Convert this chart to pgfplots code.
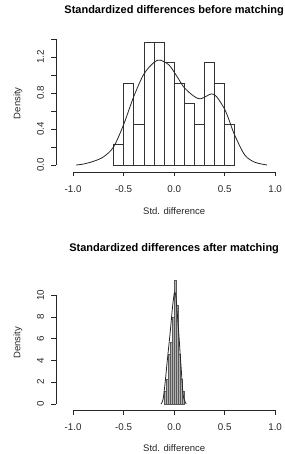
\documentclass[border=0pt]{standalone}
\usepackage{pgfplots}
\pgfplotsset{compat=1.18}
\usepackage{fontspec}
\setmainfont{Liberation Sans}
\pgfplotsset{
  rstyle/.style={
    scale only axis,
    anchor=south west,
    width=236.3bp,
    xmin=-1.17, xmax=1.17,
    axis lines=left,
    axis line style={draw=none},
    xtick={-1,-0.5,0,0.5,1},
    xticklabels={-1.0,-0.5,0.0,0.5,1.0},
    tick align=outside,
    major tick length=4.5bp,
    tick style={black!85, line width=0.6bp},
    /pgf/number format/assume math mode=true,
    ticklabel style={font=\fontsize{9.8bp}{11bp}\selectfont, text=black!85},
    yticklabel style={rotate=90, anchor=south},
    xticklabel shift=6bp,
    yticklabel shift=4bp,
    label style={font=\fontsize{9.5bp}{11bp}\selectfont, text=black!85},
    title style={font=\fontsize{11bp}{13bp}\selectfont\bfseries, anchor=center},
    xlabel={Std. difference},
    ylabel={Density},
    ylabel style={at={(axis description cs:-0.161,0.5)}, anchor=center},
    clip=false,
  }
}
\begin{document}
\begin{tikzpicture}
\path[use as bounding box] (0,0) rectangle (285bp,454bp);
% ---------- top panel ----------
\begin{axis}[rstyle,
  at={(56bp,282bp)}, height=137.5bp,
  ymin=-0.078, ymax=1.45,
  ytick={0,0.2,0.4,0.6,0.8,1.0,1.2,1.4},
  yticklabels={0.0,,0.4,,0.8,,1.2,},
  title={Standardized differences before matching},
  title style={at={(axis description cs:0.5,1.132)}},
  xlabel style={at={(axis description cs:0.5,-0.284)}, anchor=center},
]
\draw[black!85, line width=0.6bp] (axis cs:-1,-0.078) -- (axis cs:1,-0.078);
\draw[black!85, line width=0.6bp] (axis cs:-1.17,0) -- (axis cs:-1.17,1.4);
\addplot[ybar interval, fill=white, draw=black!80, line width=0.6bp] coordinates {
(-0.6,0.2273) (-0.5,0.9091) (-0.4,0.4545) (-0.3,1.3636) (-0.2,1.3636)
(-0.1,1.1364) (0.0,0.9091) (0.1,0.6818) (0.2,0.4545) (0.3,1.1364)
(0.4,0.9091) (0.5,0.4545) (0.6,0)
};
\addplot[black!85, line width=0.8bp, smooth, no marks] coordinates {
(-0.97,0.00) (-0.9,0.01) (-0.8,0.04) (-0.7,0.09) (-0.6,0.20) (-0.5,0.45)
(-0.4,0.76) (-0.3,1.01) (-0.2,1.14) (-0.14,1.165) (-0.05,1.11) (0.03,0.98)
(0.1,0.86) (0.2,0.76) (0.26,0.735) (0.32,0.765) (0.37,0.79) (0.42,0.76)
(0.5,0.62) (0.55,0.48) (0.6,0.33) (0.7,0.11) (0.8,0.03) (0.92,0.00)
};
\end{axis}
% ---------- bottom panel ----------
\begin{axis}[rstyle,
  at={(56bp,44bp)}, height=134.6bp,
  ymin=-0.55, ymax=11.8,
  ytick={0,2,4,6,8,10},
  yticklabels={0,2,4,6,8,10},
  title={Standardized differences after matching},
  title style={at={(axis description cs:0.5,1.157)}},
  xlabel style={at={(axis description cs:0.5,-0.285)}, anchor=center},
]
\draw[black!85, line width=0.6bp] (axis cs:-1,-0.55) -- (axis cs:1,-0.55);
\draw[black!85, line width=0.6bp] (axis cs:-1.17,0) -- (axis cs:-1.17,10);
\addplot[ybar interval, fill=gray!60, draw=gray!70!black, line width=0.3bp] coordinates {
(-0.10,1.14) (-0.08,2.27) (-0.06,4.55) (-0.04,5.68) (-0.02,7.95)
(0.00,11.36) (0.02,9.09) (0.04,4.55) (0.06,2.27) (0.08,1.14) (0.10,0)
};
\addplot[black!85, line width=0.8bp, smooth, no marks] coordinates {
(-0.13,0.0) (-0.11,0.4) (-0.09,1.9) (-0.07,3.8) (-0.06,4.7) (-0.04,6.5)
(-0.028,7.7) (-0.015,9.0) (0.0,10.1) (0.01,10.2) (0.02,9.6) (0.035,7.8)
(0.048,6.2) (0.06,4.5) (0.071,3.1) (0.087,1.0) (0.1,0.4) (0.12,0.0)
};
\end{axis}
\end{tikzpicture}
\end{document}
